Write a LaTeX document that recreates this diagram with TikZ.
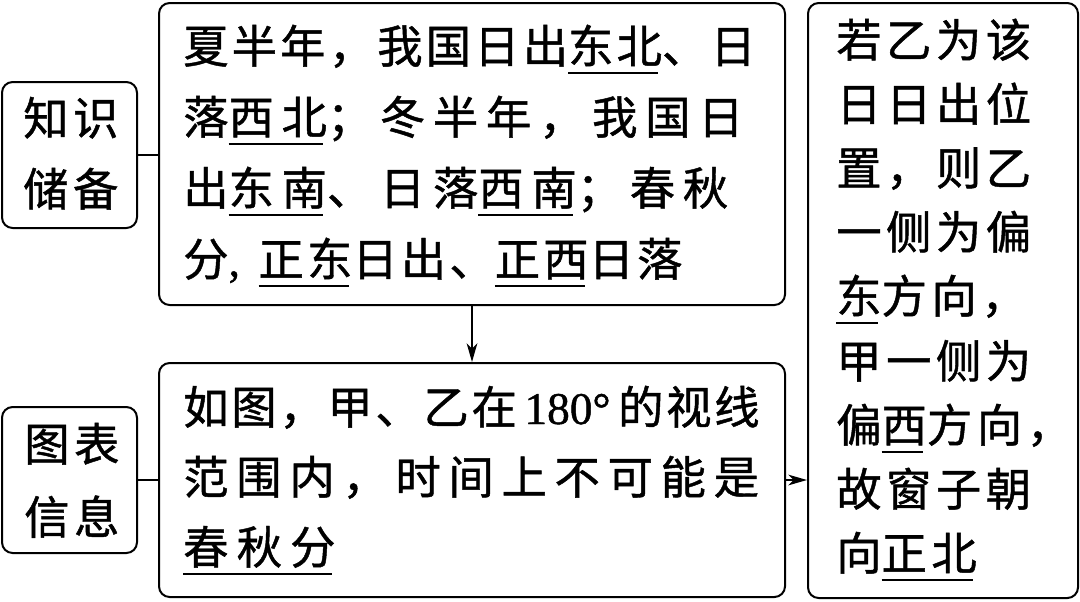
\documentclass[tikz,border=0pt]{standalone}
\usepackage{fontspec}
\setmainfont{Liberation Serif}
\newfontfamily\cjk[FakeBold=1]{Noto Sans CJK SC}
\newfontfamily\lat[FakeBold=1]{Liberation Serif}
\usetikzlibrary{arrows.meta}
\newcommand\ls[1]{\addfontfeature{LetterSpace=#1}}
\newcommand\ul[1]{\setbox0=\hbox{#1}\rlap{\rule[-8pt]{\dimexpr\wd0-0.08em\relax}{1.5pt}}\box0}

\begin{document}
\begin{tikzpicture}[x=0.75pt,y=-0.75pt,
  box/.style={draw,line width=1.5pt,rounded corners=8pt,inner sep=0pt},
  txt/.style={anchor=base west,inner sep=0pt,font={\cjk\fontsize{34pt}{40pt}\selectfont}},
  link/.style={line width=1.2pt},
  arr/.style={line width=1.2pt,-{Stealth[length=14pt,width=8pt,inset=4pt]}}]
\useasboundingbox (0,0) rectangle (1080,601);
% boxes
\node[box,minimum width=101.25pt,minimum height=109.5pt] (zs) at (69.5,155) {};
\node[box,minimum width=101.25pt,minimum height=109.5pt] (tb) at (69.5,480) {};
\node[box,minimum width=469.5pt,minimum height=226.5pt] (kn) at (472,154) {};
\node[box,minimum width=469.5pt,minimum height=175.5pt] (im) at (472,480) {};
\node[box,minimum width=202.5pt,minimum height=446.25pt] (jl) at (943,300.5) {};
% connectors
\draw[link] (zs.east) -- (zs.east -| kn.west);
\draw[link] (tb.east) -- (tb.east -| im.west);
\draw[arr] (kn.south) -- (im.north);
\draw[arr] (im.east) -- (im.east -| jl.west);
% left labels
\node[txt] (k1) at (23,135) {\ls{10}知识};
\node[txt] (k2) at (23,206) {\ls{10}储备};
\node[txt] (g1) at (24,461) {\ls{10}图表};
\node[txt] (g2) at (24,534) {\ls{10}信息};
% knowledge
\node[txt] (n1) at (183,63) {\ls{7}夏半年，我国日出\ul{东北}、日};
\node[txt] (n2) at (183,134) {\ls{17}落\ul{西北}；冬半年，我国日};
\node[txt] (n3) at (183,205) {\ls{17}出\ul{东南}、日落\ul{西南}；春秋};
\node[txt] (n4) at (183,276) {\ls{7}分{\lat,}\hspace{14pt}\ul{正东}日出、\ul{正西}日落};
% picture info
\node[txt] (m1) at (183,424) {\ls{6}如图，甲、乙在{\lat\,180°}\,的视线};
\node[txt] (m2) at (183,494) {\ls{17}范围内，时间上不可能是};
\node[txt] (m3) at (183,564) {\ls{18}\ul{春秋分}};
% conclusion
\node[txt] (r1) at (836,57) {\ls{10}若乙为该};
\node[txt] (r2) at (836,121) {\ls{10}日日出位};
\node[txt] (r3) at (836,185) {\ls{10}置，则乙};
\node[txt] (r4) at (836,249) {\ls{10}一侧为偏};
\node[txt] (r5) at (836,313) {\ls{10}\ul{东}方向，};
\node[txt] (r6) at (836,378) {\ls{10}甲一侧为};
\node[txt] (r7) at (836,442) {\ls{10}偏\ul{西}方向，};
\node[txt] (r8) at (836,506) {\ls{10}故窗子朝};
\node[txt] (r9) at (836,570) {\ls{10}向\ul{正北}};
\end{tikzpicture}
\end{document}
